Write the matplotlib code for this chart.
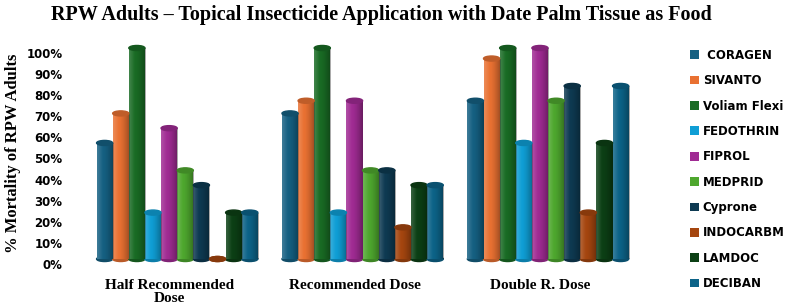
import numpy as np
import matplotlib.pyplot as plt
from matplotlib.patches import Ellipse, Patch
from matplotlib.colors import to_rgb

doses = ["Half Recommended\nDose", "Recommended Dose", "Double R. Dose"]
products = ["CORAGEN", "SIVANTO", "Voliam Flexi", "FEDOTHRIN", "FIPROL",
            "MEDPRID", "Cyprone", "INDOCARBM", "LAMDOC", "DECIBAN"]
colors = ["#156082", "#E97132", "#196B24", "#0F9ED5", "#A02B93",
          "#4EA72E", "#0E3A52", "#A5460F", "#0C4015", "#0C6388"]

# % mortality per product, one value per dose
coragen = [55, 69, 75]
sivanto = [69, 75, 95]
voliam = [100, 100, 100]
fedothrin = [22, 22, 55]
fiprol = [62, 75, 100]
medprid = [42, 42, 75]
cyprone = [35, 42, 82]
indocarbm = [0, 15, 22]
lamdoc = [22, 35, 55]
deciban = [22, 35, 82]
values = [coragen, sivanto, voliam, fedothrin, fiprol,
          medprid, cyprone, indocarbm, lamdoc, deciban]

fig = plt.figure(figsize=(7.86, 3.06), dpi=100)
# 0% of the bars sits at 259 px from top, 100% at 48 px; the
# percent labels are drawn ~5 px lower than the bar floor
off = 5 / 211
ax = fig.add_axes([68/786, 42/306, 582/786, 216/306])

x = np.arange(len(doses))
w = 0.087
cap = 0.024

grad = np.linspace(0, 1, 64)
shade = np.zeros((1, 64, 4))
# light on the left, dark on the right, like the cylinder shading
shade[0, :, :3] = np.where(grad[:, None] < 0.35, 1.0, 0.0)
shade[0, :, 3] = np.where(grad < 0.35, 0.18 * (1 - grad / 0.35), 0.35 * ((grad - 0.35) / 0.65) ** 1.5)

for i, (name, col, vals) in enumerate(zip(products, colors, values)):
    pos = x + (i - 4.5) * w
    v = np.array(vals) / 100.0
    bars = ax.bar(pos, v, width=w, color=col, edgecolor="none", zorder=2)
    rgb = np.array(to_rgb(col))
    for b, px, h in zip(bars, pos, v):
        ax.add_patch(Ellipse((px, 0), w, cap, color=rgb * 0.8, zorder=1.5, clip_on=False))
        if h > 0:
            im = ax.imshow(shade, extent=(px - w/2, px + w/2, 0, h), aspect="auto",
                           zorder=2.5, interpolation="bilinear")
            im.set_clip_path(b)
        ax.add_patch(Ellipse((px, h), w, cap, color=rgb * 0.82, zorder=3, clip_on=False))

ax.set_xlim(-0.589, 2.55)
ax.set_ylim(-off, 1.0)
ticks = np.arange(0, 1.01, 0.1)
ax.set_yticks(ticks - off)
ax.set_yticklabels([f"{int(round(t*100))}%" for t in ticks],
                   fontfamily="DejaVu Sans", fontweight="bold", fontsize=8.5)
ax.set_xticks(x - 0.04)
ax.set_xticklabels(doses, fontfamily="Liberation Serif", fontweight="bold", fontsize=11,
                   linespacing=0.95)
ax.tick_params(axis="both", length=0)
ax.tick_params(axis="y", pad=4)
ax.tick_params(axis="x", pad=11)
for s in ax.spines.values():
    s.set_visible(False)

fig.text(381/786, 1 - 15/306, "RPW Adults \u2013 Topical Insecticide Application with Date Palm Tissue as Food",
         ha="center", va="center", fontfamily="Liberation Serif", fontweight="bold", fontsize=14.5)
fig.text(13/786, 1 - 153/306, "% Mortality of RPW Adults", rotation=90, ha="center", va="center",
         fontfamily="Liberation Serif", fontweight="bold", fontsize=12)

handles = [Patch(facecolor=c, edgecolor="none") for c in colors]
labels = [" " + products[0]] + products[1:]
leg = fig.legend(handles, labels, loc="upper left", bbox_to_anchor=(685/786, 1 - 44/306),
                 frameon=False, handlelength=0.75, handleheight=0.75, handletextpad=0.35,
                 labelspacing=1.05, borderaxespad=0,
                 prop={"family": "DejaVu Sans", "weight": "bold", "size": 8.5})

fig.savefig("out.png", dpi=100)
